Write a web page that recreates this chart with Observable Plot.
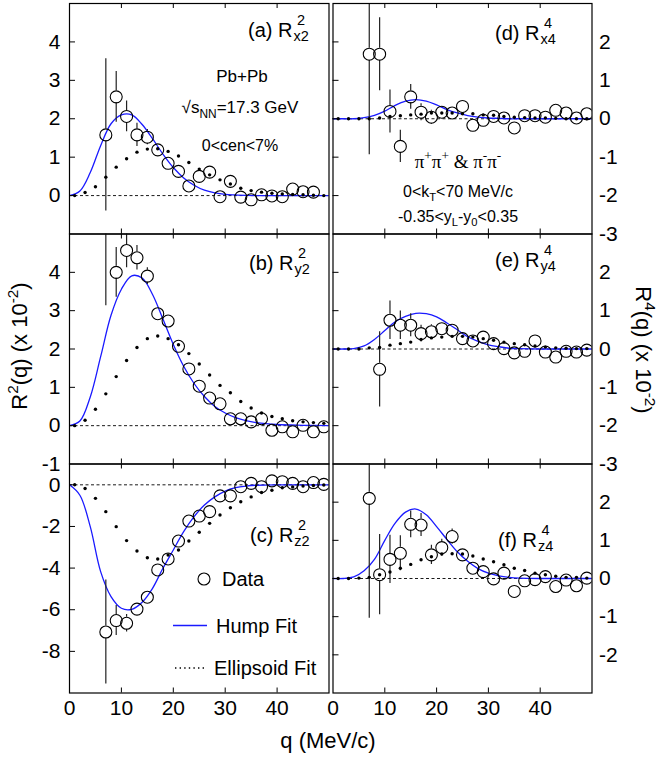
<!DOCTYPE html>
<html><head><meta charset="utf-8">
<script src="https://cdn.jsdelivr.net/npm/d3@7"></script>
<script src="https://cdn.jsdelivr.net/npm/@observablehq/plot@0.6"></script>
<style>
body{margin:0;background:#fff;}
#chart{position:relative;width:658px;height:760px;background:#fff;}
#chart > svg{position:absolute;}
</style></head><body><div id="chart"></div>
<script>
// ---------- data ----------
const qData = [7,9,11,13,15,17,19,21,23,25,27,29,31,33,35,37,39,41,43,45,47,49];
const qFit  = [1,3,5,7,9,11,13,15,17,19,21,23,25,27,29,31,33,35,37,39,41,43,45,47,49];
const qHump = [0,2,4,6,8,10,12,14,16,18,20,22,24,26,28,30,32,34,36,40,45,50];
const xTickValues = [0,10,20,30,40];

// (a) R^2_x2
const dataA = [1.58,2.57,2.06,1.58,1.52,1.19,0.84,0.63,0.25,0.50,0.61,-0.03,0.37,-0.04,-0.11,0.02,-0.01,-0.03,0.17,0.10,0.09,null];
const errA  = [1.98,0.66,0.40,0.30,0.20,0.15,0.12,0.12,0.10,0.10,0.10,0.10,0.10,0.10,0.10,0.10,0.10,0.10,0.10,0.10,0.10,null];
const ellA  = [0,0.08,0.23,0.48,0.74,0.96,1.13,1.21,1.22,1.15,1.03,0.86,0.69,0.54,0.41,0.30,0.19,0.13,0.09,0.06,0.04,0.03,0.02,0.01,0];
const humpA = [0,0.12,0.60,1.30,1.87,2.10,2.10,1.85,1.48,1.08,0.73,0.46,0.27,0.14,0.07,0.03,0.015,0.005,0,0,0,0];
// (b) R^2_y2
const dataB = [5.60,4.00,4.57,4.38,3.90,2.92,2.73,2.07,1.48,1.03,0.72,0.57,0.18,0.18,0.10,0.18,-0.12,-0.03,-0.16,0.01,-0.16,-0.03];
const errB  = [2.47,0.65,0.45,0.32,0.22,0.15,0.12,0.12,0.12,0.12,0.12,0.12,0.12,0.12,0.12,0.12,0.12,0.12,0.12,0.12,0.12,0.12];
const ellB  = [0,0.14,0.43,0.83,1.28,1.70,2.04,2.27,2.34,2.27,2.11,1.88,1.61,1.32,1.05,0.86,0.63,0.46,0.33,0.24,0.18,0.13,0.10,0.08,0.06];
const humpB = [0,0.12,0.75,1.80,2.88,3.56,3.91,3.85,3.42,2.78,2.12,1.55,1.10,0.76,0.50,0.33,0.21,0.13,0.08,0.03,0.01,0];
// (c) R^2_z2
const dataC = [-7.07,-6.52,-6.65,-5.97,-5.40,-4.09,-3.56,-2.70,-1.74,-1.50,-1.29,-0.53,-0.53,-0.09,0.07,-0.09,0.19,0.15,0.07,-0.09,0.11,0.02];
const errC  = [2.50,0.72,0.42,0.30,0.25,0.20,0.15,0.15,0.15,0.15,0.15,0.15,0.15,0.15,0.15,0.15,0.15,0.15,0.15,0.15,0.15,0.15];
const ellC  = [0,-0.18,-0.65,-1.29,-2.01,-2.68,-3.18,-3.50,-3.56,-3.37,-3.13,-2.70,-2.28,-1.85,-1.45,-1.10,-0.81,-0.58,-0.37,-0.26,-0.14,-0.10,-0.06,-0.03,-0.01];
const humpC = [0,-0.50,-2.01,-4.17,-5.37,-5.93,-5.98,-5.64,-4.97,-4.01,-3.13,-2.25,-1.53,-0.97,-0.58,-0.30,-0.14,-0.06,-0.02,0,0,0];
// (d) R^4_x4
const dataD = [1.68,1.68,0.19,-0.72,0.57,0.17,0.04,0.17,0.15,0.32,-0.17,-0.04,0.06,0.02,-0.24,0.08,0.08,0.04,0.22,0.15,0.02,0.13];
const errD  = [2.62,0.95,0.56,0.42,0.32,0.22,0.18,0.12,0.12,0.12,0.12,0.12,0.12,0.12,0.12,0.12,0.12,0.12,0.12,0.12,0.12,0.12];
const ellD  = [0,0,0,0,0.02,0.06,0.08,0.10,0.12,0.15,0.15,0.15,0.13,0.13,0.10,0.09,0.06,0.04,0.03,0.02,0.02,0.01,0,0,0];
const humpD = [0,0,0,0.03,0.09,0.20,0.35,0.46,0.50,0.46,0.36,0.24,0.15,0.08,0.04,0.02,0.01,0,0,0,0,0];
// (e) R^4_y4
const dataE = [null,-0.53,0.75,0.62,0.62,0.40,0.45,0.53,0.49,0.27,0.21,0.31,0.14,0.01,-0.10,-0.06,0.21,-0.08,-0.21,-0.06,-0.08,-0.03];
const errE  = [null,0.98,0.50,0.37,0.30,0.22,0.18,0.15,0.12,0.12,0.12,0.12,0.12,0.12,0.12,0.12,0.12,0.12,0.12,0.12,0.12,0.12];
const ellE  = [0,0,0,0.03,0.04,0.10,0.14,0.18,0.25,0.29,0.31,0.33,0.33,0.31,0.27,0.23,0.18,0.14,0.11,0.08,0.05,0.03,0.02,0.01,0.01];
const humpE = [0,0,0.01,0.08,0.25,0.48,0.71,0.85,0.93,0.92,0.84,0.68,0.50,0.32,0.20,0.11,0.06,0.02,0.01,0,0,0];
// (f) R^4_z4
const dataF = [2.10,0.10,0.50,0.66,1.42,1.40,0.62,0.81,1.10,0.62,0.27,0.18,-0.01,0.14,-0.34,-0.06,-0.03,0.05,-0.21,-0.04,-0.19,0.01];
const errF  = [3.14,1.05,0.63,0.46,0.35,0.30,0.25,0.22,0.20,0.15,0.12,0.12,0.12,0.12,0.12,0.12,0.12,0.12,0.12,0.12,0.12,0.12];
const ellF  = [0,0,0.01,0.03,0.10,0.17,0.27,0.37,0.49,0.57,0.64,0.65,0.64,0.59,0.51,0.44,0.36,0.27,0.21,0.14,0.10,0.06,0.03,0.03,0.01];
const humpF = [0,0,0.04,0.20,0.50,1.00,1.45,1.74,1.82,1.67,1.36,1.02,0.70,0.45,0.26,0.14,0.07,0.03,0.01,0,0,0];

// ---------- layout ----------
const FONT = "'Liberation Sans', Arial, Helvetica, sans-serif";
const SERIF = "'Liberation Serif', 'Times New Roman', serif";
const R = 6; // open-circle radius
const panels = [
  {id:"a", data:dataA, err:errA, ell:ellA, hump:humpA, domain:[-1,5], ticks:[0,1,2,3,4], labels:[0,1,2,3,4],
   side:"left", left:0, top:0, w:330, h:240, ml:69, mr:1.5, mt:3, mb:6.5, xlab:false},
  {id:"b", data:dataB, err:errB, ell:ellB, hump:humpB, domain:[-1,5], ticks:[0,1,2,3,4], labels:[-1,0,1,2,3,4],
   side:"left", left:0, top:233, w:330, h:240, ml:69, mr:1.5, mt:0.5, mb:9.5, xlab:false},
  {id:"c", data:dataC, err:errC, ell:ellC, hump:humpC, domain:[-10,1], ticks:[0,-2,-4,-6,-8], labels:[0,-2,-4,-6,-8],
   side:"left", left:0, top:463, w:330, h:297, ml:69, mr:1.5, mt:0.5, mb:67.5, xlab:true},
  {id:"d", data:dataD, err:errD, ell:ellD, hump:humpD, domain:[-3,3], ticks:[-2,-1,0,1,2], labels:[-3,-2,-1,0,1,2],
   side:"right", left:330, top:0, w:328, h:240, ml:2.5, mr:66.5, mt:3, mb:6.5, xlab:false},
  {id:"e", data:dataE, err:errE, ell:ellE, hump:humpE, domain:[-3,3], ticks:[-2,-1,0,1,2], labels:[-3,-2,-1,0,1,2],
   side:"right", left:330, top:233, w:328, h:240, ml:2.5, mr:66.5, mt:0.5, mb:9.5, xlab:false},
  {id:"f", data:dataF, err:errF, ell:ellF, hump:humpF, domain:[-3,3], ticks:[-2,-1,0,1,2], labels:[-2,-1,0,1,2],
   side:"right", left:330, top:463, w:328, h:297, ml:2.5, mr:66.5, mt:0.5, mb:67.5, xlab:true}
];

const chart = document.getElementById("chart");

for (const p of panels) {
  const fw = p.w - p.ml - p.mr, fh = p.h - p.mt - p.mb;
  const ppu = fh / (p.domain[1] - p.domain[0]);
  const pts = qData.map((q, i) => ({q, v: p.data[i], e: p.err[i]})).filter(d => d.v != null);
  const bars = pts.filter(d => d.e * ppu > R + 0.5);
  const ell = qFit.map((q, i) => ({q, v: p.ell[i]}));
  const hump = qHump.map((q, i) => ({q, v: p.hump[i]}));
  const marks = [
    Plot.ruleY([0], {stroke: "#000", strokeWidth: 0.9, strokeDasharray: "3,2.5"}),
    Plot.line(hump, {x: "q", y: "v", stroke: "#1a1aff", strokeWidth: 1.3, curve: "catmull-rom", clip: true}),
    Plot.ruleX(bars, {x: "q", y1: d => d.v + d.e, y2: "v", insetBottom: R, stroke: "#222", strokeWidth: 1.2, clip: true}),
    Plot.ruleX(bars, {x: "q", y1: "v", y2: d => d.v - d.e, insetTop: R, stroke: "#222", strokeWidth: 1.2, clip: true}),
    Plot.dot(pts, {x: "q", y: "v", r: R, stroke: "#000", fill: "none", strokeWidth: 1.1, clip: true}),
    Plot.dot(ell, {x: "q", y: "v", r: 1.7, fill: "#000", stroke: "none"}),
    // inward ticks
    Plot.ruleX(xTickValues.slice(1), {x: d => d, insetBottom: fh - 5, stroke: "#000", strokeWidth: 1}),
    Plot.ruleX(xTickValues.slice(1), {x: d => d, insetTop: fh - 5, stroke: "#000", strokeWidth: 1}),
    Plot.ruleY(p.ticks, {y: d => d, insetRight: fw - 6, stroke: "#000", strokeWidth: 1}),
    Plot.frame({stroke: "#000", strokeWidth: 1.2}),
    Plot.axisY(p.labels, {anchor: p.side, tickSize: 0, tickPadding: p.side === "left" ? 9 : 7,
      tickFormat: d => String(d), fontSize: 21, label: null})
  ];
  if (p.xlab) marks.push(Plot.axisX(xTickValues, {anchor: "bottom", tickSize: 0, tickPadding: 7,
      tickFormat: d => String(d), fontSize: 21, label: null}));
  const plot = Plot.plot({
    width: p.w, height: p.h,
    marginLeft: p.ml, marginRight: p.mr, marginTop: p.mt, marginBottom: p.mb,
    x: {domain: [0, 50], ...(p.xlab ? {} : {axis: null})},
    y: {domain: p.domain},
    style: {background: "transparent", overflow: "visible", fontFamily: FONT, fontSize: "21px", color: "#000"},
    marks
  });
  plot.style.position = "absolute";
  plot.style.left = p.left + "px";
  plot.style.top = p.top + "px";
  plot.style.maxWidth = "none";
  chart.appendChild(plot);
  p.fx = p.left + p.ml; p.fy = p.top + p.mt; p.fw = fw; p.fh = fh;
}

// ---------- text overlay ----------
const NS = "http://www.w3.org/2000/svg";
function el(tag, attrs, parent) {
  const e = document.createElementNS(NS, tag);
  for (const k in attrs) e.setAttribute(k, attrs[k]);
  if (parent) parent.appendChild(e);
  return e;
}
const over = el("svg", {width: 658, height: 760, viewBox: "0 0 658 760"});
over.style.position = "absolute"; over.style.left = "0"; over.style.top = "0"; over.style.overflow = "visible";
chart.appendChild(over);

function rich(x, y, segs, {size = 16, anchor = "middle", family = FONT, transform} = {}) {
  const t = el("text", {x, y, "font-size": size, "text-anchor": anchor, "font-family": family, fill: "#000"}, over);
  if (transform) t.setAttribute("transform", transform);
  let shift = 0;
  for (const s of segs) {
    const [str, kind] = Array.isArray(s) ? s : [s];
    const target = kind === "sup" ? -0.42 * size : kind === "sub" ? 0.28 * size : 0;
    const ts = el("tspan", {}, t);
    if (target !== shift) ts.setAttribute("dy", target - shift);
    if (kind) ts.setAttribute("font-size", size * 0.7);
    ts.textContent = str;
    shift = target;
  }
  return t;
}
function stacked(p, dx, dy, main, sup, sub) {
  const x = p.fx + dx, y = p.fy + dy, size = 20, ss = 14.5;
  const t = el("text", {x, y, "font-size": size, "font-family": FONT, fill: "#000"}, over);
  t.textContent = main;
  const w = t.getComputedTextLength();
  const tb = el("text", {x: x + w + 1, y: y + 4, "font-size": ss, "font-family": FONT, fill: "#000"}, over);
  tb.textContent = sub;
  const wb = tb.getComputedTextLength();
  const tp = el("text", {x: x + w + 1 + wb / 2, y: y - 12, "font-size": ss, "text-anchor": "middle", "font-family": FONT, fill: "#000"}, over);
  tp.textContent = sup;
}
const P = Object.fromEntries(panels.map(p => [p.id, p]));
stacked(P.a, 179, 34, "(a) R", "2", "x2");
stacked(P.b, 180, 36.5, "(b) R", "2", "y2");
stacked(P.c, 181, 78.5, "(c) R", "2", "z2");
stacked(P.d, 162.5, 37, "(d) R", "4", "x4");
stacked(P.e, 162.5, 33.5, "(e) R", "4", "y4");
stacked(P.f, 165.5, 83.5, "(f) R", "4", "z4");

// panel (a) annotations
rich(P.a.fx + 173, P.a.fy + 79, ["Pb+Pb"], {size: 17});
rich(P.a.fx + 171, P.a.fy + 110, ["\u221As", ["NN", "sub"], "=17.3 GeV"], {size: 17});
rich(P.a.fx + 171, P.a.fy + 148, ["0<cen<7%"], {size: 16});
// panel (d) annotations
rich(P.d.fx + 125.5, P.d.fy + 165, ["\u03C0", ["+", "sup"], "\u03C0", ["+", "sup"], " & \u03C0", ["-", "sup"], "\u03C0", ["-", "sup"]], {size: 19, family: SERIF});
rich(P.d.fx + 125.5, P.d.fy + 194, ["0<k", ["T", "sub"], "<70 MeV/c"], {size: 16});
rich(P.d.fx + 125.5, P.d.fy + 219, ["-0.35<y", ["L", "sub"], "-y", ["0", "sub"], "<0.35"], {size: 16});

// legend in panel (c)
const c = P.c;
el("circle", {cx: c.fx + 135, cy: c.fy + 115.5, r: R, fill: "none", stroke: "#000", "stroke-width": 1.1}, over);
rich(c.fx + 153, c.fy + 122.5, ["Data"], {size: 20, anchor: "start"});
el("line", {x1: c.fx + 104, x2: c.fx + 138, y1: c.fy + 162, y2: c.fy + 162, stroke: "#1a1aff", "stroke-width": 1.3}, over);
rich(c.fx + 147, c.fy + 169.5, ["Hump Fit"], {size: 20, anchor: "start"});
el("line", {x1: c.fx + 106, x2: c.fx + 138, y1: c.fy + 204.5, y2: c.fy + 204.5, stroke: "#000", "stroke-width": 1.4, "stroke-dasharray": "1.4,3.2"}, over);
rich(c.fx + 145, c.fy + 211.5, ["Ellipsoid Fit"], {size: 20, anchor: "start"});

// axis titles
rich(0, 0, ["R", ["2", "sup"], "(q) (x 10", ["-2", "sup"], ")"], {size: 22, transform: "translate(27,346) rotate(-90)"});
rich(0, 0, ["R", ["4", "sup"], "(q) (x 10", ["-2", "sup"], ")"], {size: 22, transform: "translate(636,350) rotate(90)"});
rich(328, 748, ["q (MeV/c)"], {size: 22});
</script></body></html>
